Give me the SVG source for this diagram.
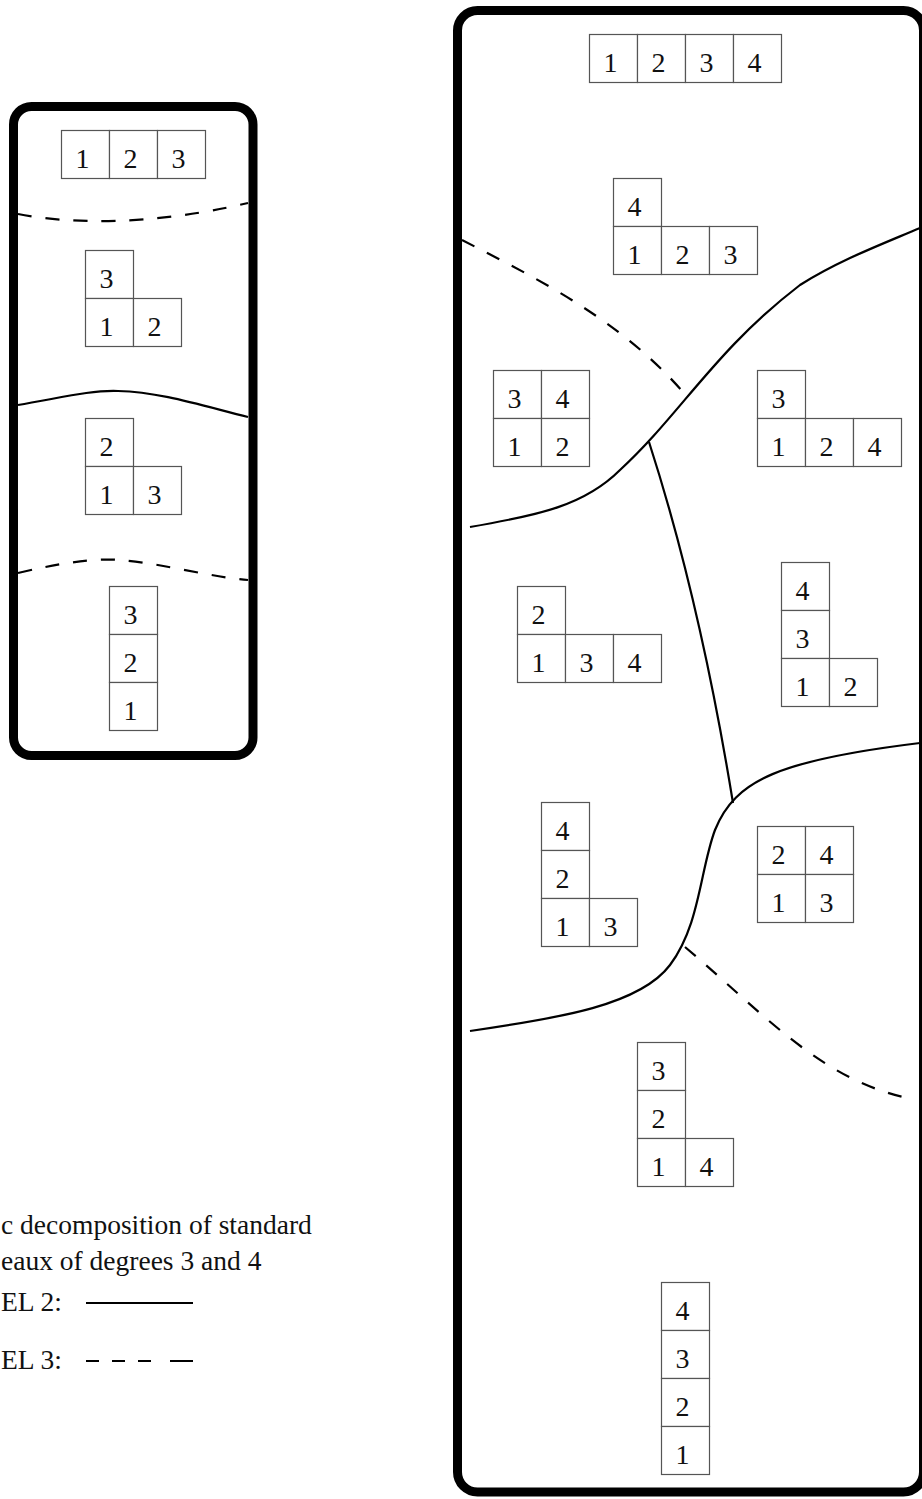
<svg xmlns="http://www.w3.org/2000/svg" width="922" height="1499" viewBox="0 0 922 1499">
<style>
.frame{fill:none;stroke:#000;stroke-width:9}
.cell{fill:#fff;stroke:#555;stroke-width:1.2}
.num{font-family:"Liberation Serif","Times New Roman",serif;font-size:28px;fill:#111;text-anchor:middle}
.lvl2{fill:none;stroke:#000;stroke-width:2.2}
.lvl3{fill:none;stroke:#000;stroke-width:2.2;stroke-dasharray:14 14}
.leg{font-family:"Liberation Serif","Times New Roman",serif;font-size:27.5px;fill:#111}
</style>
<rect width="922" height="1499" fill="#fff"/>

<g id="frame-left"><rect class="frame" x="13.5" y="106.5" width="239.5" height="649" rx="18"/></g>
<g id="frame-right"><rect class="frame" x="457.5" y="10.5" width="466" height="1481.5" rx="20"/></g>

<g id="connectors">
<path class="lvl3" d="M18,214 C70,224 150,226 248,203"/>
<path class="lvl2" d="M18,405 C60,398 90,390 118,391 C160,392 200,405 248,417"/>
<path class="lvl3" d="M18,573 C60,563 95,558 120,560 C160,563 210,577 248,580"/>
<path class="lvl3" d="M462,240 C540,280 620,320 683,392"/>
<path class="lvl2" d="M470,527 C540,515 585,505 620,470 C680,415 715,350 800,285 C840,260 880,245 920,228"/>
<path class="lvl2" d="M649,442 Q700,600 733,803"/>
<path class="lvl2" d="M470,1031 C560,1018 640,1005 670,965 C700,925 700,870 715,830 C735,780 780,760 920,743"/>
<path class="lvl3" d="M685,947 C760,1010 820,1080 908,1098"/>
</g>

<g id="l-123">
<rect class="cell" x="61.5" y="130.5" width="48" height="48"/><text class="num" x="82.5" y="167.5">1</text>
<rect class="cell" x="109.5" y="130.5" width="48" height="48"/><text class="num" x="130.5" y="167.5">2</text>
<rect class="cell" x="157.5" y="130.5" width="48" height="48"/><text class="num" x="178.5" y="167.5">3</text>
</g>
<g id="l-3-12">
<rect class="cell" x="85.5" y="250.5" width="48" height="48"/><text class="num" x="106.5" y="287.5">3</text>
<rect class="cell" x="85.5" y="298.5" width="48" height="48"/><text class="num" x="106.5" y="335.5">1</text>
<rect class="cell" x="133.5" y="298.5" width="48" height="48"/><text class="num" x="154.5" y="335.5">2</text>
</g>
<g id="l-2-13">
<rect class="cell" x="85.5" y="418.5" width="48" height="48"/><text class="num" x="106.5" y="455.5">2</text>
<rect class="cell" x="85.5" y="466.5" width="48" height="48"/><text class="num" x="106.5" y="503.5">1</text>
<rect class="cell" x="133.5" y="466.5" width="48" height="48"/><text class="num" x="154.5" y="503.5">3</text>
</g>
<g id="l-3-2-1">
<rect class="cell" x="109.5" y="586.5" width="48" height="48"/><text class="num" x="130.5" y="623.5">3</text>
<rect class="cell" x="109.5" y="634.5" width="48" height="48"/><text class="num" x="130.5" y="671.5">2</text>
<rect class="cell" x="109.5" y="682.5" width="48" height="48"/><text class="num" x="130.5" y="719.5">1</text>
</g>

<g id="r-1234">
<rect class="cell" x="589.5" y="34.5" width="48" height="48"/><text class="num" x="610.5" y="71.5">1</text>
<rect class="cell" x="637.5" y="34.5" width="48" height="48"/><text class="num" x="658.5" y="71.5">2</text>
<rect class="cell" x="685.5" y="34.5" width="48" height="48"/><text class="num" x="706.5" y="71.5">3</text>
<rect class="cell" x="733.5" y="34.5" width="48" height="48"/><text class="num" x="754.5" y="71.5">4</text>
</g>
<g id="r-4-123">
<rect class="cell" x="613.5" y="178.5" width="48" height="48"/><text class="num" x="634.5" y="215.5">4</text>
<rect class="cell" x="613.5" y="226.5" width="48" height="48"/><text class="num" x="634.5" y="263.5">1</text>
<rect class="cell" x="661.5" y="226.5" width="48" height="48"/><text class="num" x="682.5" y="263.5">2</text>
<rect class="cell" x="709.5" y="226.5" width="48" height="48"/><text class="num" x="730.5" y="263.5">3</text>
</g>
<g id="r-34-12">
<rect class="cell" x="493.5" y="370.5" width="48" height="48"/><text class="num" x="514.5" y="407.5">3</text>
<rect class="cell" x="541.5" y="370.5" width="48" height="48"/><text class="num" x="562.5" y="407.5">4</text>
<rect class="cell" x="493.5" y="418.5" width="48" height="48"/><text class="num" x="514.5" y="455.5">1</text>
<rect class="cell" x="541.5" y="418.5" width="48" height="48"/><text class="num" x="562.5" y="455.5">2</text>
</g>
<g id="r-3-124">
<rect class="cell" x="757.5" y="370.5" width="48" height="48"/><text class="num" x="778.5" y="407.5">3</text>
<rect class="cell" x="757.5" y="418.5" width="48" height="48"/><text class="num" x="778.5" y="455.5">1</text>
<rect class="cell" x="805.5" y="418.5" width="48" height="48"/><text class="num" x="826.5" y="455.5">2</text>
<rect class="cell" x="853.5" y="418.5" width="48" height="48"/><text class="num" x="874.5" y="455.5">4</text>
</g>
<g id="r-2-134">
<rect class="cell" x="517.5" y="586.5" width="48" height="48"/><text class="num" x="538.5" y="623.5">2</text>
<rect class="cell" x="517.5" y="634.5" width="48" height="48"/><text class="num" x="538.5" y="671.5">1</text>
<rect class="cell" x="565.5" y="634.5" width="48" height="48"/><text class="num" x="586.5" y="671.5">3</text>
<rect class="cell" x="613.5" y="634.5" width="48" height="48"/><text class="num" x="634.5" y="671.5">4</text>
</g>
<g id="r-4-3-12">
<rect class="cell" x="781.5" y="562.5" width="48" height="48"/><text class="num" x="802.5" y="599.5">4</text>
<rect class="cell" x="781.5" y="610.5" width="48" height="48"/><text class="num" x="802.5" y="647.5">3</text>
<rect class="cell" x="781.5" y="658.5" width="48" height="48"/><text class="num" x="802.5" y="695.5">1</text>
<rect class="cell" x="829.5" y="658.5" width="48" height="48"/><text class="num" x="850.5" y="695.5">2</text>
</g>
<g id="r-4-2-13">
<rect class="cell" x="541.5" y="802.5" width="48" height="48"/><text class="num" x="562.5" y="839.5">4</text>
<rect class="cell" x="541.5" y="850.5" width="48" height="48"/><text class="num" x="562.5" y="887.5">2</text>
<rect class="cell" x="541.5" y="898.5" width="48" height="48"/><text class="num" x="562.5" y="935.5">1</text>
<rect class="cell" x="589.5" y="898.5" width="48" height="48"/><text class="num" x="610.5" y="935.5">3</text>
</g>
<g id="r-24-13">
<rect class="cell" x="757.5" y="826.5" width="48" height="48"/><text class="num" x="778.5" y="863.5">2</text>
<rect class="cell" x="805.5" y="826.5" width="48" height="48"/><text class="num" x="826.5" y="863.5">4</text>
<rect class="cell" x="757.5" y="874.5" width="48" height="48"/><text class="num" x="778.5" y="911.5">1</text>
<rect class="cell" x="805.5" y="874.5" width="48" height="48"/><text class="num" x="826.5" y="911.5">3</text>
</g>
<g id="r-3-2-14">
<rect class="cell" x="637.5" y="1042.5" width="48" height="48"/><text class="num" x="658.5" y="1079.5">3</text>
<rect class="cell" x="637.5" y="1090.5" width="48" height="48"/><text class="num" x="658.5" y="1127.5">2</text>
<rect class="cell" x="637.5" y="1138.5" width="48" height="48"/><text class="num" x="658.5" y="1175.5">1</text>
<rect class="cell" x="685.5" y="1138.5" width="48" height="48"/><text class="num" x="706.5" y="1175.5">4</text>
</g>
<g id="r-4-3-2-1">
<rect class="cell" x="661.5" y="1282.5" width="48" height="48"/><text class="num" x="682.5" y="1319.5">4</text>
<rect class="cell" x="661.5" y="1330.5" width="48" height="48"/><text class="num" x="682.5" y="1367.5">3</text>
<rect class="cell" x="661.5" y="1378.5" width="48" height="48"/><text class="num" x="682.5" y="1415.5">2</text>
<rect class="cell" x="661.5" y="1426.5" width="48" height="48"/><text class="num" x="682.5" y="1463.5">1</text>
</g>

<g id="legend">
<text class="leg" x="1" y="1234">c decomposition of standard</text>
<text class="leg" x="1" y="1270">eaux of degrees 3 and 4</text>
<text class="leg" x="1" y="1311">EL 2:</text>
<line class="lvl2" x1="86" y1="1303" x2="193" y2="1303"/>
<text class="leg" x="1" y="1369">EL 3:</text>
<path fill="none" stroke="#000" stroke-width="2.2" d="M86,1361 h13 M112,1361 h13 M138,1361 h13 M170,1361 h23"/>
</g>
</svg>
